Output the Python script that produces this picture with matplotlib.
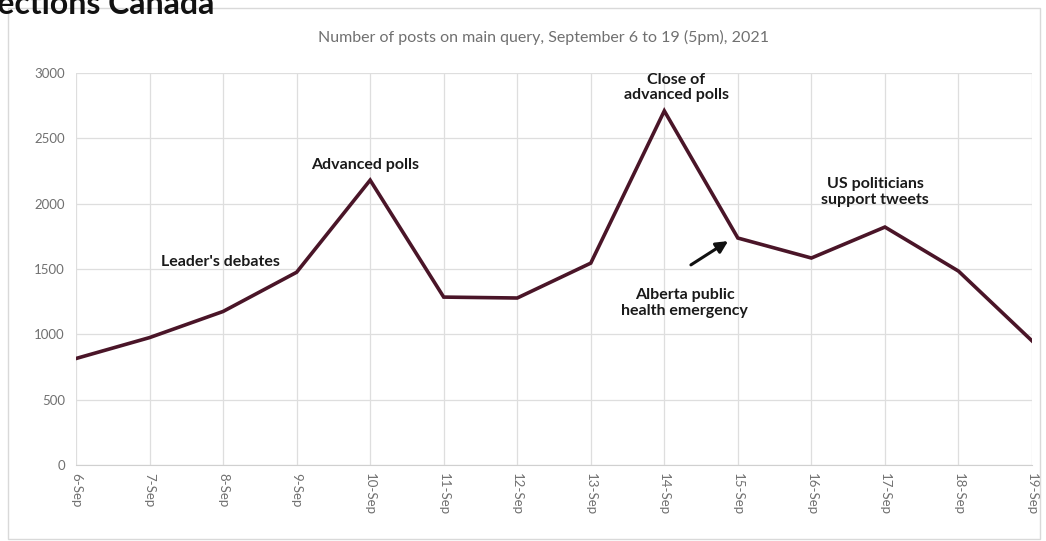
import matplotlib
matplotlib.use("Agg")
import matplotlib.pyplot as plt
from matplotlib.patches import Rectangle

dates = ["6-Sep", "7-Sep", "8-Sep", "9-Sep", "10-Sep", "11-Sep", "12-Sep",
         "13-Sep", "14-Sep", "15-Sep", "16-Sep", "17-Sep", "18-Sep", "19-Sep"]
posts = [815, 975, 1175, 1475, 2180, 1285, 1278, 1545, 2710, 1737, 1584, 1821, 1484, 950]
yticks = [0, 500, 1000, 1500, 2000, 2500, 3000]

annotations = [
    ("Leader's debates", 1.96, 1550),
    ("Advanced polls", 3.93, 2295),
    ("Close of\nadvanced polls", 8.16, 2890),
    ("US politicians\nsupport tweets", 10.87, 2090),
    ("Alberta public\nhealth emergency", 8.28, 1240),
]

plt.rcParams['font.family'] = ['Lato', 'DejaVu Sans']

fig = plt.figure(figsize=(10.46, 5.41), dpi=100)
ax = fig.add_axes([76/1046, 1-465/541, (1032-76)/1046, (465-73)/541])

x = list(range(len(dates)))
ax.plot(x, posts, color="#4a1528", lw=2.6, solid_joinstyle="miter", zorder=3)

ax.set_xlim(0, len(dates)-1)
ax.set_ylim(0, 3000)
ax.set_xticks(x)
ax.set_xticklabels(dates, rotation=-90, fontsize=9.5, color="#707070")
ax.set_yticks(yticks)
ax.set_yticklabels([str(v) for v in yticks], fontsize=9.5, color="#707070")
ax.tick_params(axis="both", length=0, pad=8)
ax.tick_params(axis="x", pad=6)
ax.grid(True, color="#dedede", lw=0.9)
for s in ["top", "right", "left"]:
    ax.spines[s].set_visible(False)
ax.spines["bottom"].set_color("#d0d0d0")

for txt, xx, yy in annotations:
    ax.text(xx, yy, txt, ha="center", va="center", fontsize=11.5,
            fontweight="bold", color="#1a1a1a", linespacing=1.15, zorder=4)

ax.annotate("", xy=(8.9, 1725), xytext=(8.33, 1520),
            arrowprops=dict(arrowstyle="-|>,head_length=0.7,head_width=0.35",
                            color="#111111", lw=2.2), zorder=4)

fig.text(0.52, 1-37/541, "Number of posts on main query, September 6 to 19 (5pm), 2021",
         ha="center", va="center", fontsize=11.5, color="#707070")

# outer chart border
fig.patches.append(Rectangle((8/1046, 2/541), (1040-8)/1046, (536-5)/541,
                             transform=fig.transFigure, fill=False,
                             edgecolor="#d9d9d9", lw=1))

fig.text(-0.028, 1-14/541, "Elections Canada", ha="left", va="baseline",
         fontsize=23, fontweight="bold", color="#111111")

fig.savefig("out.png", dpi=100, facecolor="white")
